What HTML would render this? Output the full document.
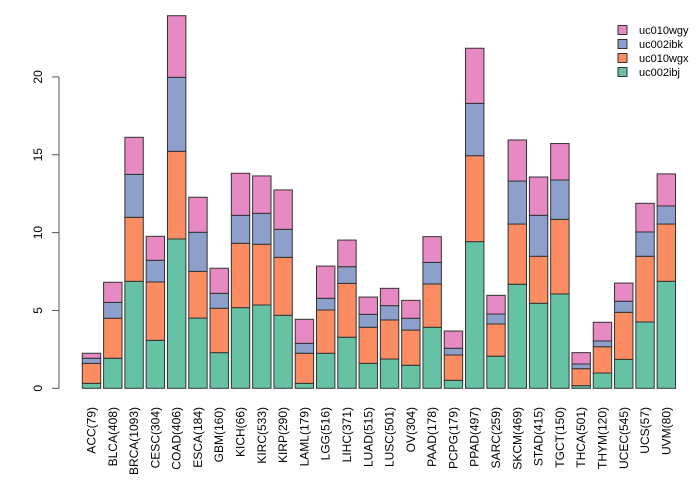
<!DOCTYPE html>
<html><head><meta charset="utf-8"><style>
html,body{margin:0;padding:0;background:#fff;}
svg{display:block;font-family:"Liberation Sans",sans-serif;}
</style></head><body>
<svg id="chart" width="700" height="480" viewBox="0 0 700 480" xmlns="http://www.w3.org/2000/svg"></svg>
<script>
const categories = ["ACC(79)","BLCA(408)","BRCA(1093)","CESC(304)","COAD(406)","ESCA(184)","GBM(160)","KICH(66)","KIRC(533)","KIRP(290)","LAML(179)","LGG(516)","LIHC(371)","LUAD(515)","LUSC(501)","OV(304)","PAAD(178)","PCPG(179)","PPAD(497)","SARC(259)","SKCM(469)","STAD(415)","TGCT(150)","THCA(501)","THYM(120)","UCEC(545)","UCS(57)","UVM(80)"];
const seriesNames = ["uc002ibj","uc010wgx","uc002ibk","uc010wgy"];
const uc002ibj = [0.32,1.93,6.87,3.08,9.59,4.51,2.29,5.18,5.35,4.69,0.32,2.25,3.28,1.60,1.88,1.48,3.92,0.51,9.42,2.06,6.68,5.46,6.06,0.17,0.98,1.86,4.26,6.87];
const uc010wgx = [1.28,2.57,4.11,3.75,5.63,3.00,2.85,4.13,3.90,3.72,1.93,2.78,3.46,2.32,2.51,2.26,2.78,1.63,5.52,2.07,3.87,3.02,4.79,1.09,1.69,3.02,4.22,3.68];
const uc002ibk = [0.33,1.02,2.76,1.39,4.75,2.51,0.96,1.80,1.99,1.80,0.64,0.75,1.07,0.83,0.92,0.76,1.39,0.43,3.36,0.64,2.76,2.63,2.53,0.30,0.37,0.71,1.56,1.16];
const uc010wgy = [0.32,1.29,2.38,1.54,3.96,2.25,1.61,2.70,2.40,2.53,1.54,2.07,1.71,1.11,1.11,1.15,1.65,1.11,3.54,1.20,2.64,2.46,2.34,0.73,1.20,1.17,1.84,2.06];
const yTicks = [0,5,10,15,20];
const seriesData = [uc002ibj,uc010wgx,uc002ibk,uc010wgy];
const colors = ["#66c2a5","#fc8d62","#8da0cb","#e78ac3"];

const NS="http://www.w3.org/2000/svg";
const svg=document.getElementById('chart');
const y0=388.3, pxPerUnit=15.57;
function yScale(v){return y0 - v*pxPerUnit;}
const barStart=82.3, step=21.29, barW=18.4;
function xScale(i){return barStart + i*step;}
function mk(tag,attrs){const e=document.createElementNS(NS,tag);for(const k in attrs)e.setAttribute(k,attrs[k]);svg.appendChild(e);return e;}

// bars
categories.forEach((c,i)=>{
  let cum=0;
  seriesData.forEach((s,j)=>{
    const v=s[i];
    const r=mk('rect',{x:xScale(i),y:yScale(cum+v),width:barW,height:v*pxPerUnit,fill:colors[j],stroke:'#333','stroke-width':1});
    
    
    cum+=v;
  });
  const t=mk('text',{x:0,y:0,transform:`translate(${xScale(i)+barW/2+4},407) rotate(-90)`,'text-anchor':'end','font-size':12,fill:'#000'});
  t.textContent=c;
  
  
});

// y axis
const ax=mk('line',{x1:59,x2:59,y1:yScale(0),y2:yScale(20),stroke:'#555','stroke-width':1});


yTicks.forEach(v=>{
  const tk=mk('line',{x1:52,x2:59,y1:yScale(v),y2:yScale(v),stroke:'#555','stroke-width':1});
  
  
  const t=mk('text',{x:0,y:0,transform:`translate(42,${yScale(v)}) rotate(-90)`,'text-anchor':'middle','font-size':12,fill:'#000'});
  t.textContent=v;
  
  
});

// legend (top to bottom: reverse order)
const legendOrder=[3,2,1,0];
legendOrder.forEach((j,k)=>{
  const cy=30+k*14;
  const r=mk('rect',{x:618,y:cy-4.5,width:9,height:9,fill:colors[j],stroke:'#333','stroke-width':1});
  
  
  const t=mk('text',{x:639,y:cy+4,'font-size':11,fill:'#000'});
  t.textContent=seriesNames[j];
  
  
});
</script>
</body></html>
